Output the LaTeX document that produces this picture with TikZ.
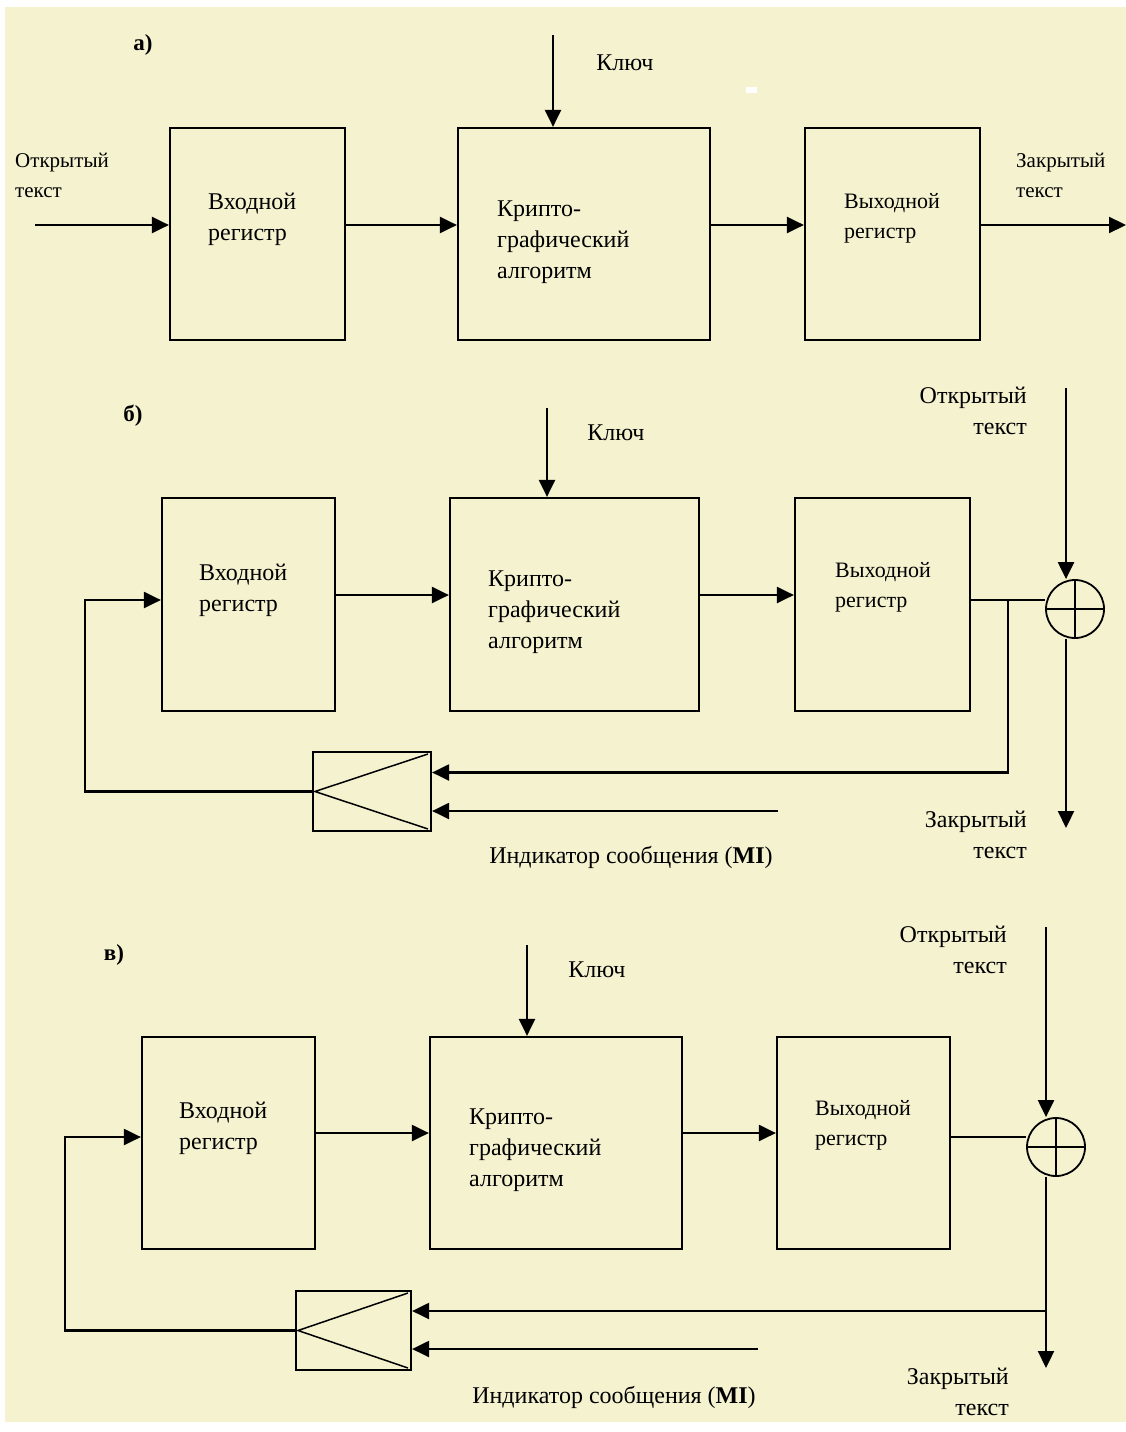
\documentclass[tikz,border=0pt]{standalone}
\usepackage{fontspec}
\setmainfont{Liberation Serif}
\usetikzlibrary{arrows.meta,calc}
\definecolor{bg}{RGB}{245,242,208}
\begin{document}
\begin{tikzpicture}[x=1pt,y=-1pt,
  ln/.style={line width=2.2pt},
  arr/.style={line width=2.2pt,-{Triangle[length=17pt,width=16pt]}},
  blk/.style={draw,line width=2.2pt,inner sep=0pt,minimum width=#1},
  txt/.style={inner sep=0pt,align=left,anchor=west,font=\fontsize{24}{31}\selectfont},
  txts/.style={inner sep=0pt,align=left,anchor=west,font=\fontsize{22}{30}\selectfont},
  lbl/.style={inner sep=0pt,font=\fontsize{23}{30}\selectfont\bfseries},
  rlbl/.style={inner sep=0pt,align=right,anchor=east,font=\fontsize{24}{31}\selectfont},
  llbl/.style={inner sep=0pt,align=left,anchor=west,font=\fontsize{21}{30}\selectfont},
  ctxt/.style={inner sep=0pt,font=\fontsize{24}{30}\selectfont},
  xor/.style={draw,circle,line width=1.8pt,minimum size=58pt,inner sep=0pt,
    path picture={\draw[line width=1.8pt] (path picture bounding box.north) -- (path picture bounding box.south)
      (path picture bounding box.west) -- (path picture bounding box.east);}},
  mux/.style={draw,line width=2.2pt,inner sep=0pt,minimum width=#1,minimum height=79pt,
    path picture={\draw[line width=1.5pt] ([xshift=-3pt,yshift=-2pt]path picture bounding box.north east) -- ([xshift=2pt]path picture bounding box.west) -- ([xshift=-3pt,yshift=2pt]path picture bounding box.south east);}}
]
\useasboundingbox (0,0) rectangle (1126,1432);
\fill[white] (0,0) rectangle (1126,1432);
\fill[bg] (5,7) rectangle (1126,1422);
\fill[white] (746,87) rectangle (757,93);

% ---------------- a)
\node[lbl] (la) at (143,45) {а)};
\node[blk=175pt,minimum height=212pt] (b1a) at (257.5,234) {};
\node[blk=252pt,minimum height=212pt] (b2a) at (584,234) {};
\node[blk=175pt,minimum height=212pt] (b3a) at (892.5,234) {};
\node[txt] (t1a) at (208,219) {Входной\\регистр};
\node[txt] (t2a) at (497,242) {Крипто-\\графический\\алгоритм};
\node[txts] (t3a) at (844,218) {Выходной\\регистр};
\node[ctxt] (ka) at (625,63) {Ключ};
\node[llbl] (oa) at (15,175) {Открытый\\текст};
\node[llbl] (za) at (1016,175) {Закрытый\\текст};
\coordinate (kta) at (553,35);
\coordinate (ina) at (35,225);
\coordinate (outa) at (1126,225);
\draw[arr] (kta) -- (kta |- b2a.north);
\draw[arr] (ina) -- (ina -| b1a.west);
\draw[arr] (b1a.east |- ina) -- (b2a.west |- ina);
\draw[arr] (b2a.east |- ina) -- (b3a.west |- ina);
\draw[arr] (b3a.east |- ina) -- (outa);

% ---------------- б)
\node[lbl] (lb) at (133,416) {б)};
\node[blk=173pt,minimum height=213pt] (b1b) at (248.5,604.5) {};
\node[blk=249pt,minimum height=213pt] (b2b) at (574.5,604.5) {};
\node[blk=175pt,minimum height=213pt] (b3b) at (882.5,604.5) {};
\node[txt] (t1b) at (199,590) {Входной\\регистр};
\node[txt] (t2b) at (488,612) {Крипто-\\графический\\алгоритм};
\node[txts] (t3b) at (835,587) {Выходной\\регистр};
\node[ctxt] (kb) at (616,433) {Ключ};
\node[rlbl] (ob) at (1027,411) {Открытый\\текст};
\node[rlbl] (zb) at (1027,835) {Закрытый\\текст};
\node[ctxt] (mib) at (631,857) {Индикатор сообщения (\textbf{MI})};
\node[xor] (xb) at (1075,609) {};
\node[mux=118pt] (mb) at (372,791.5) {};
\coordinate (ktb) at (547,408);
\coordinate (yb) at (0,595);
\coordinate (yob) at (0,600);
\coordinate (ptb) at (1066,388);
\coordinate (ctb) at (1066,828);
\coordinate (jb) at (1008,600);
\coordinate (msb) at (778,811);
\coordinate (lpb) at (85,600);
\draw[arr] (ktb) -- (ktb |- b2b.north);
\draw[arr] (b1b.east |- yb) -- (b2b.west |- yb);
\draw[arr] (b2b.east |- yb) -- (b3b.west |- yb);
\draw[ln] (b3b.east |- yob) -- (xb.west |- yob);
\draw[arr] (ptb) -- (ptb |- xb.north);
\draw[arr] (xb.south -| ptb) -- (ctb);
\draw[arr] (jb) |- ([yshift=19pt]mb.east);
\draw[arr] (msb) -- (msb -| mb.east);
\draw[arr] (mb.west) -| (lpb) -- (lpb -| b1b.west);

% ---------------- в)
\node[lbl] (lc) at (114,955) {в)};
\node[blk=173pt,minimum height=212pt] (b1c) at (228.5,1143) {};
\node[blk=252pt,minimum height=212pt] (b2c) at (556,1143) {};
\node[blk=173pt,minimum height=212pt] (b3c) at (863.5,1143) {};
\node[txt] (t1c) at (179,1128) {Входной\\регистр};
\node[txt] (t2c) at (469,1150) {Крипто-\\графический\\алгоритм};
\node[txts] (t3c) at (815,1125) {Выходной\\регистр};
\node[ctxt] (kc) at (597,970) {Ключ};
\node[rlbl] (oc) at (1007,950) {Открытый\\текст};
\node[rlbl] (zc) at (1009,1392) {Закрытый\\текст};
\node[ctxt] (mic) at (614,1397) {Индикатор сообщения (\textbf{MI})};
\node[xor] (xc) at (1056,1147) {};
\node[mux=115pt] (mc) at (353.5,1330.5) {};
\coordinate (ktc) at (527,945);
\coordinate (yc) at (0,1133);
\coordinate (yoc) at (0,1137);
\coordinate (ptc) at (1046,927);
\coordinate (ctc) at (1046,1368);
\coordinate (jc) at (1046,1311);
\coordinate (msc) at (758,1349);
\coordinate (lpc) at (65,1137);
\draw[arr] (ktc) -- (ktc |- b2c.north);
\draw[arr] (b1c.east |- yc) -- (b2c.west |- yc);
\draw[arr] (b2c.east |- yc) -- (b3c.west |- yc);
\draw[ln] (b3c.east |- yoc) -- (xc.west |- yoc);
\draw[arr] (ptc) -- (ptc |- xc.north);
\draw[arr] (xc.south -| ptc) -- (ctc);
\draw[arr] (jc) -- (jc -| mc.east);
\draw[arr] (msc) -- (msc -| mc.east);
\draw[arr] (mc.west) -| (lpc) -- (lpc -| b1c.west);
\end{tikzpicture}
\end{document}
